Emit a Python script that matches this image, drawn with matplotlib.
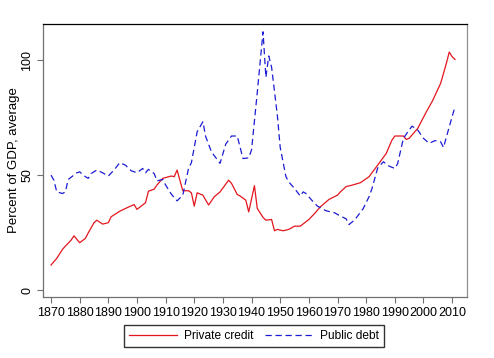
import numpy as np
import matplotlib
matplotlib.use('Agg')
import matplotlib.pyplot as plt

plt.rcParams['font.family'] = ['Liberation Sans', 'DejaVu Sans']

# private credit, percent of GDP (average)
pc_years = [1870, 1872, 1874, 1875, 1877, 1878, 1880, 1882, 1883, 1885, 1886, 1888,
            1890, 1891, 1894, 1896, 1899, 1900, 1903, 1904, 1906, 1907, 1909, 1912,
            1913, 1914, 1916, 1918, 1919, 1920, 1921, 1923, 1925, 1927, 1929, 1932,
            1933, 1935, 1936, 1938, 1939, 1941, 1942, 1944, 1945, 1947, 1948, 1949,
            1951, 1953, 1955, 1957, 1960, 1962, 1964, 1967, 1970, 1971, 1973, 1975,
            1978, 1981, 1984, 1987, 1989, 1990, 1993, 1994, 1995, 1998, 2001, 2003,
            2006, 2008, 2009, 2010, 2011]
pc_vals = [10.9, 13.8, 17.7, 19.1, 21.7, 23.6, 20.6, 22.5, 24.9, 29.3, 30.4, 28.7,
           29.3, 31.9, 34.3, 35.5, 37.2, 35.1, 38.0, 43.0, 43.9, 45.7, 48.6, 49.6,
           49.3, 52.2, 43.2, 43.2, 42.3, 36.5, 42.3, 41.3, 37.0, 40.6, 42.7, 47.8,
           46.4, 41.6, 40.9, 39.1, 34.0, 45.4, 35.5, 31.6, 30.4, 30.7, 25.8, 26.4,
           25.8, 26.4, 27.8, 27.8, 30.7, 33.3, 36.2, 39.4, 41.3, 42.7, 45.0, 45.6,
           46.7, 49.3, 54.3, 59.4, 65.2, 67.0, 67.0, 65.5, 66.0, 70.3, 77.5, 81.9,
           89.9, 98.6, 103.5, 101.5, 100.3]

# public debt, percent of GDP (average)
pd_years = [1870, 1871, 1872, 1874, 1875, 1876, 1879, 1880, 1882, 1883, 1884, 1886,
            1888, 1890, 1892, 1894, 1896, 1898, 1900, 1902, 1903, 1904, 1906, 1907,
            1909, 1910, 1912, 1914, 1916, 1918, 1919, 1921, 1923, 1924, 1926, 1929,
            1931, 1933, 1935, 1937, 1939, 1940, 1942, 1944, 1945, 1946, 1947, 1949,
            1950, 1952, 1953, 1955, 1957, 1958, 1959, 1961, 1963, 1966, 1969, 1971,
            1973, 1974, 1976, 1979, 1981, 1982, 1984, 1986, 1988, 1990, 1991, 1993,
            1995, 1996, 1998, 2000, 2002, 2004, 2006, 2007, 2009, 2011]
pd_vals = [50.0, 47.8, 42.7, 42.0, 42.7, 48.1, 51.0, 51.4, 49.3, 48.6, 50.7, 52.2,
           51.0, 49.6, 52.2, 55.4, 54.3, 51.9, 51.0, 52.9, 51.0, 52.5, 50.7, 47.5,
           48.1, 45.7, 41.7, 38.8, 41.3, 52.9, 55.4, 68.8, 73.2, 66.7, 60.1, 55.1,
           63.5, 67.0, 67.0, 57.2, 57.5, 61.0, 86.0, 112.3, 92.5, 101.8, 96.8, 76.0,
           62.0, 49.3, 47.0, 44.2, 40.9, 42.7, 42.0, 39.1, 36.5, 34.5, 33.6, 32.2,
           31.0, 28.5, 30.5, 35.5, 40.6, 44.0, 53.0, 55.8, 53.9, 52.9, 55.0, 66.0,
           69.6, 71.3, 69.6, 66.0, 63.8, 65.0, 64.5, 62.0, 71.0, 79.7]

fig = plt.figure(figsize=(4.94, 3.58), dpi=100)
ax = fig.add_axes([43/494, 61/358, 424/494, 273/358])

ax.plot(pc_years, pc_vals, color='#e3161d', lw=0.9, label='Private credit')
ax.plot(pd_years, pd_vals, color='#1c1cd2', lw=0.9, ls=(0, (5, 3)), label='Public debt')

ax.set_xlim(1867.2, 2015.2)
ax.set_ylim(-3, 115.7)
ax.set_xticks(np.arange(1870, 2011, 10))
ax.set_yticks([0, 50, 100])

ax.spines['top'].set_color('black')
ax.spines['right'].set_color('#909090')
ax.spines['left'].set_color('#707070')
ax.spines['bottom'].set_color('#707070')
for s in ax.spines.values():
    s.set_linewidth(0.9)

ax.tick_params(axis='both', direction='out', length=4, width=0.8, color='#707070',
               labelsize=9, pad=3)
for lab in ax.get_yticklabels():
    lab.set_rotation(90)
    lab.set_va('center')

ax.set_ylabel('Percent of GDP, average', fontsize=9.5)
ax.yaxis.set_label_coords(-23/424, 0.5)

fig.legend(loc='center', bbox_to_anchor=(254/494, 1 - 336/358), ncol=2,
           fontsize=8.6, frameon=True, fancybox=False, edgecolor='black',
           handlelength=4.0, columnspacing=0.9, handletextpad=0.6,
           borderpad=0.45)

fig.savefig('out.png', dpi=100)
